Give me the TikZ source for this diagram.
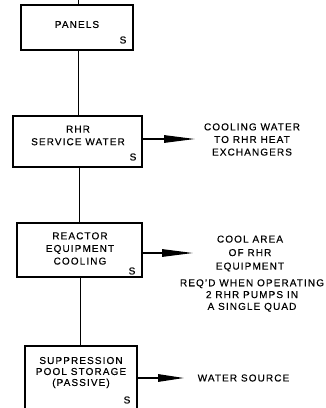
\documentclass[tikz,border=0pt]{standalone}
\usepackage{fontspec}
\setmainfont{Liberation Sans}[LetterSpace=11,FakeBold=0.4]
\usetikzlibrary{arrows.meta}
\tikzset{
  box/.style={draw, line width=1.7pt, inner sep=0pt},
  lbl/.style={align=center, inner sep=0pt, font=\fontsize{10}{12.6}\selectfont},
  smark/.style={inner sep=0pt, font=\fontsize{10}{12}\selectfont},
  conn/.style={line width=0.8pt},
  flow/.style={line width=1.4pt, -{Triangle[length=31pt,width=7.5pt]}}
}
\begin{document}
\begin{tikzpicture}[x=1pt,y=-1pt]
\useasboundingbox (0,0) rectangle (326,408);
\clip (0,0) rectangle (326,408);
% boxes
\node[box, minimum width=112pt, minimum height=45pt] (panels) at (77,27.5) {};
\node[lbl] (panelst) at (77,24.5) {PANELS};
\node[smark] (panelss) at (123,40) {S};

\node[box, minimum width=129pt, minimum height=51pt] (rhr) at (77.5,141.5) {};
\node[lbl] (rhrt) at (78,135.5) {RHR\\SERVICE WATER};
\node[smark] (rhrs) at (133,157) {S};

\node[box, minimum width=125pt, minimum height=54pt] (rec) at (79.5,250) {};
\node[lbl] (rect) at (80,248.5) {REACTOR\\EQUIPMENT\\COOLING};
\node[smark] (recs) at (132,271) {S};

\node[box, minimum width=112pt, minimum height=76pt] (sup) at (81,384) {};
\node[lbl, font=\fontsize{10}{11}\selectfont] (supt) at (81,372.5) {SUPPRESSION\\POOL STORAGE\\(PASSIVE)};
\node[smark] (sups) at (127,400) {S};

% vertical connectors
\coordinate (top) at (78,-2);
\draw[conn] (top) -- (top |- panels.north);
\draw[conn] (78,0 |- panels.south) -- (78,0 |- rhr.north);
\draw[conn] (79,0 |- rhr.south) -- (79,0 |- rec.north);
\draw[conn] (80,0 |- rec.south) -- (80,0 |- sup.north);

% outputs
\coordinate (a1) at (195,139);
\draw[flow] (rhr.east |- a1) -- (a1);
\node[lbl] (o1) at (252,139.5) {COOLING WATER\\TO RHR HEAT\\EXCHANGERS};

\coordinate (a2) at (193,253);
\draw[flow] (rec.east |- a2) -- (a2);
\node[lbl, font=\fontsize{10}{13.5}\selectfont] (o2) at (250,253.5) {COOL AREA\\OF RHR\\EQUIPMENT};
\node[lbl, font=\fontsize{10}{11.8}\selectfont] (o3) at (252,295.5) {REQ'D WHEN OPERATING\\2 RHR PUMPS IN\\A SINGLE QUAD};

\coordinate (a3) at (184,378);
\draw[flow, -{Triangle[length=26pt,width=7.5pt]}] (sup.east |- a3) -- (a3);
\node[lbl] (o4) at (243.5,378) {WATER SOURCE};
\end{tikzpicture}
\end{document}
